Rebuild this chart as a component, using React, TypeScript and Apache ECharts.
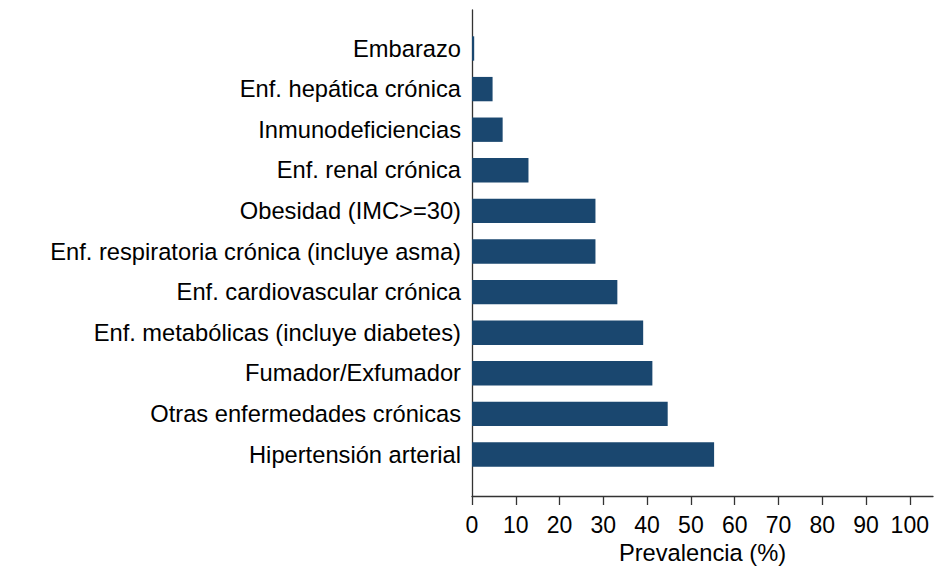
import React, { useEffect, useRef } from "react";
import * as echarts from "echarts";

const categories = [
  "Embarazo",
  "Enf. hepática crónica",
  "Inmunodeficiencias",
  "Enf. renal crónica",
  "Obesidad (IMC>=30)",
  "Enf. respiratoria crónica (incluye asma)",
  "Enf. cardiovascular crónica",
  "Enf. metabólicas (incluye diabetes)",
  "Fumador/Exfumador",
  "Otras enfermedades crónicas",
  "Hipertensión arterial",
];

const prevalence = [0.5, 4.7, 7.0, 12.9, 28.2, 28.2, 33.2, 39.1, 41.2, 44.7, 55.3];

const xTicks = [0, 10, 20, 30, 40, 50, 60, 70, 80, 90, 100];
const xTitle = "Prevalencia (%)";

export default function App() {
  const ref = useRef<HTMLDivElement>(null);

  useEffect(() => {
    if (!ref.current) return;
    const chart = echarts.init(ref.current, null, { renderer: "svg" });
    const font = "'Liberation Sans', Arial, sans-serif";
    const axisColor = "#333333";
    const xMax = 105.3;
    chart.setOption({
      animation: false,
      backgroundColor: "#ffffff",
      grid: [
        { left: 472, right: 14, top: 10, height: 486 },
        { left: 472, right: 14, top: 28.2, height: 446.6 },
      ],
      xAxis: [
        {
          type: "value",
          gridIndex: 0,
          min: 0,
          max: xMax,
          interval: 10,
          axisLine: { show: true, lineStyle: { color: axisColor, width: 1.3 } },
          axisTick: {
            show: true,
            length: 9,
            customValues: xTicks,
            lineStyle: { color: axisColor, width: 1.3 },
          },
          axisLabel: {
            customValues: xTicks,
            margin: 17,
            fontSize: 23,
            color: "#000",
            fontFamily: font,
          },
          splitLine: { show: false },
          name: xTitle,
          nameLocation: "middle",
          nameGap: 40,
          nameTextStyle: { fontSize: 23.7, color: "#000", fontFamily: font, verticalAlign: "top" },
        },
        {
          type: "value",
          gridIndex: 1,
          min: 0,
          max: xMax,
          show: false,
        },
      ],
      yAxis: [
        {
          type: "value",
          gridIndex: 0,
          min: 0,
          max: 1,
          axisLine: { show: true, lineStyle: { color: axisColor, width: 1.3 } },
          axisTick: { show: false },
          axisLabel: { show: false },
          splitLine: { show: false },
        },
        {
          type: "category",
          gridIndex: 1,
          inverse: true,
          data: categories,
          axisLine: { show: false },
          axisTick: { show: false },
          axisLabel: {
            margin: 11,
            fontSize: 23.7,
            color: "#000",
            fontFamily: font,
          },
          splitLine: { show: false },
        },
      ],
      series: [
        {
          type: "bar",
          xAxisIndex: 1,
          yAxisIndex: 1,
          data: prevalence,
          barCategoryGap: "40%",
          itemStyle: { color: "#1a476f" },
        },
      ],
    });
    return () => chart.dispose();
  }, []);

  return <div ref={ref} style={{ width: 947, height: 585, position: "absolute", left: 0, top: 0 }} />;
}
